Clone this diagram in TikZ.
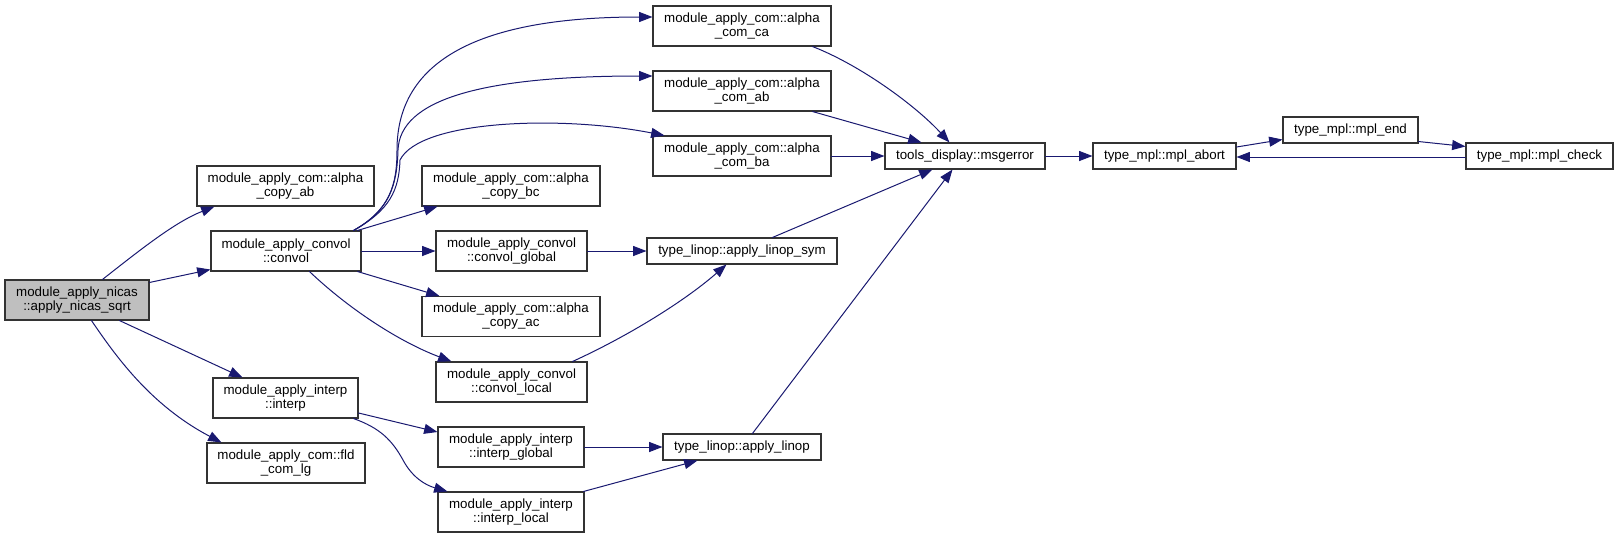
\documentclass[tikz,border=0pt]{standalone}
\usepackage{fontspec}
\setmainfont{Liberation Sans}
\usepackage{tikz}
\usetikzlibrary{arrows.meta,calc}
\usepackage{xcolor}
\definecolor{edgeblue}{RGB}{25,25,112}

\begin{document}
\begin{tikzpicture}[x=0.75pt,y=-0.75pt,>={Triangle[length=10pt,width=7.5pt]},font=\fontsize{10pt}{10.5pt}\selectfont,line cap=round,
  fn/.style={draw=black!80,line width=0.8pt,fill=white,inner sep=0pt,align=center,minimum height=30pt},
  fnone/.style={fn,minimum height=19.5pt},
  call/.style={->,edgeblue,line width=0.75pt}]
\useasboundingbox (0,0) rectangle (1619,539);
\node[fn,fill=black!25,minimum width=108pt] (nicas) at (77,300) {module\_apply\_nicas\\::apply\_nicas\_sqrt};
\node[fn,minimum width=132.75pt] (copyab) at (285.5,186) {module\_apply\_com::alpha\\\_copy\_ab};
\node[fn,minimum width=112.5pt] (convol) at (286,251) {module\_apply\_convol\\::convol};
\node[fn,minimum width=108.75pt] (interp) at (285.5,398) {module\_apply\_interp\\::interp};
\node[fn,minimum width=118.5pt] (fldlg) at (286,463) {module\_apply\_com::fld\\\_com\_lg};
\node[fn,minimum width=133.5pt] (comca) at (742,26) {module\_apply\_com::alpha\\\_com\_ca};
\node[fn,minimum width=133.5pt] (comab) at (742,91) {module\_apply\_com::alpha\\\_com\_ab};
\node[fn,minimum width=133.5pt] (comba) at (742,156) {module\_apply\_com::alpha\\\_com\_ba};
\node[fn,minimum width=133.5pt] (copybc) at (511,186) {module\_apply\_com::alpha\\\_copy\_bc};
\node[fn,minimum width=113.25pt] (cglobal) at (511.5,251) {module\_apply\_convol\\::convol\_global};
\node[fn,minimum width=133.5pt] (copyac) at (511,316.5) {module\_apply\_com::alpha\\\_copy\_ac};
\node[fn,minimum width=113.25pt] (clocal) at (511.5,382) {module\_apply\_convol\\::convol\_local};
\node[fn,minimum width=109.5pt] (iglobal) at (511,447) {module\_apply\_interp\\::interp\_global};
\node[fn,minimum width=109.5pt] (ilocal) at (511,512) {module\_apply\_interp\\::interp\_local};
\node[fnone,minimum width=142.5pt] (linopsym) at (742,251) {type\_linop::apply\_linop\_sym};
\node[fnone,minimum width=118.5pt] (linop) at (742,447) {type\_linop::apply\_linop};
\node[fnone,minimum width=120pt] (msgerror) at (965,156) {tools\_display::msgerror};
\node[fnone,minimum width=107.25pt] (mplabort) at (1164.5,156) {type\_mpl::mpl\_abort};
\node[fnone,minimum width=101.25pt] (mplend) at (1350.5,130) {type\_mpl::mpl\_end};
\node[fnone,minimum width=110.25pt] (mplcheck) at (1539.5,156) {type\_mpl::mpl\_check};
\draw[call] ($(nicas.north west)+(98,0)$) .. controls (140,250) and (175,222) .. ($(copyab.south west)+(18,0)$);
\draw[call] ($(nicas.north east)+(0,3)$) -- ($(convol.south west)+(0,-2)$);
\draw[call] ($(nicas.south west)+(115,0)$) -- ($(interp.north west)+(30,0)$);
\draw[call] ($(nicas.south west)+(87,0)$) .. controls (115,355) and (150,405) .. ($(fldlg.north west)+(15,0)$);
\draw[call] ($(convol.north east)+(-8,0)$) .. controls (390,210) and (397,185) .. (397,150) .. controls (397,60) and (480,17) .. ($(comca.west)+(0,-9)$);
\draw[call] ($(convol.north east)+(-8,0)$) .. controls (390,210) and (397,185) .. (398,150) .. controls (400,100) and (480,76) .. ($(comab.west)+(0,-15)$);
\draw[call] ($(convol.north east)+(-8,0)$) .. controls (390,210) and (399,190) .. (400,160) .. controls (420,120) and (560,115) .. ($(comba.north west)+(12,0)$);
\draw[call] ($(convol.north east)+(-4,0)$) -- ($(copybc.south west)+(16,0)$);
\draw[call] (convol.east) -- (cglobal.west);
\draw[call] ($(convol.south east)+(-4,0)$) -- ($(copyac.north west)+(18,0)$);
\draw[call] ($(convol.south west)+(99,0)$) .. controls (350,310) and (400,342) .. ($(clocal.north west)+(16,0)$);
\draw[call] ($(interp.east)+(0,15)$) -- ($(iglobal.west)+(0,-15)$);
\draw[call] ($(interp.south east)+(-5,0)$) .. controls (380,428) and (392,440) .. (403,460) .. controls (412,477) and (425,485) .. ($(ilocal.north west)+(10,0)$);
\draw[call] (cglobal.east) -- (linopsym.west);
\draw[call] ($(clocal.north east)+(-15,0)$) .. controls (620,340) and (680,305) .. ($(linopsym.south west)+(80,0)$);
\draw[call] (iglobal.east) -- (linop.west);
\draw[call] ($(ilocal.north east)+(-1,0)$) -- ($(linop.south west)+(35,0)$);
\draw[call] ($(comca.south east)+(-19,0)$) .. controls (860,65) and (915,105) .. ($(msgerror.north west)+(65,0)$);
\draw[call] ($(comab.south east)+(-19,0)$) -- ($(msgerror.north west)+(37,0)$);
\draw[call] (comba.east) -- (msgerror.west);
\draw[call] ($(linopsym.north west)+(126,0)$) -- ($(msgerror.south west)+(48,0)$);
\draw[call] ($(linop.north west)+(90,0)$) -- ($(msgerror.south west)+(68,0)$);
\draw[call] (msgerror.east) -- (mplabort.west);
\draw[call] ($(mplabort.east)+(0,-9)$) -- ($(mplend.south west)+(0,-4)$);
\draw[call] ($(mplend.south east)+(0,-2)$) -- ($(mplcheck.north west)+(0,4)$);
\draw[call] ($(mplcheck.west)+(0,1)$) -- ($(mplabort.east)+(0,1)$);
\end{tikzpicture}
\end{document}
